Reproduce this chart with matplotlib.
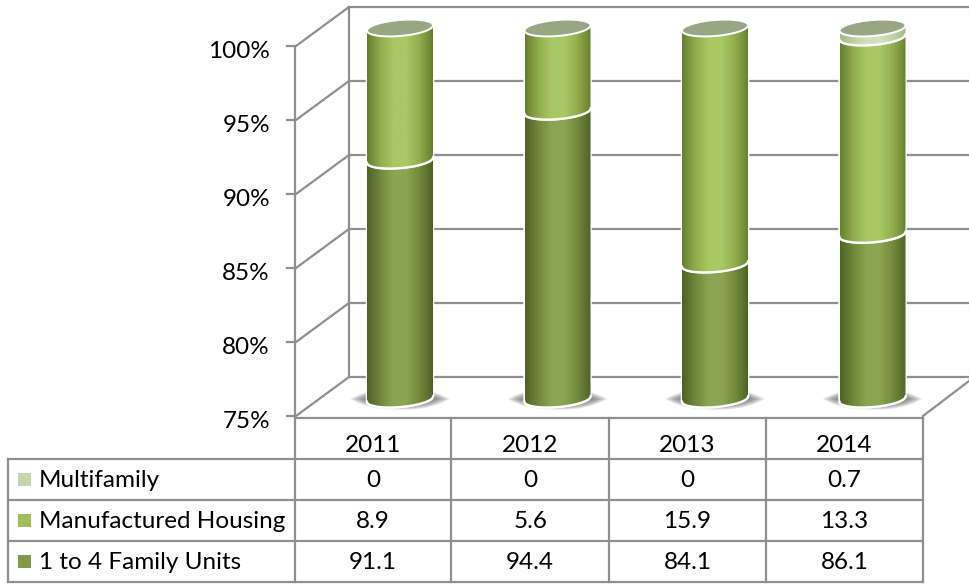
import matplotlib
matplotlib.use('Agg')
import matplotlib.pyplot as plt
import numpy as np
from matplotlib.colors import LinearSegmentedColormap
from matplotlib.patches import PathPatch, Polygon, Rectangle
from matplotlib.path import Path

years = ['2011', '2012', '2013', '2014']
series_names = ['Multifamily', 'Manufactured Housing', '1 to 4 Family Units']
family = [91.1, 94.4, 84.1, 86.1]
manufactured = [8.9, 5.6, 15.9, 13.3]
multifamily = [0, 0, 0, 0.7]
ticks = [75, 80, 85, 90, 95, 100]

plt.rcParams['font.family'] = ['Lato', 'DejaVu Sans']
GRID = '#8f8f8f'
W, H = 969, 584
FS = 17.5

fig = plt.figure(figsize=(W / 100, H / 100), dpi=100)


def overlay():
    a = fig.add_axes([0, 0, 1, 1], facecolor='none')
    a.axis('off')
    return a


# plain pixel axes for the walls and the table
ax_px = overlay()
ax_px.set_xlim(0, W)
ax_px.set_ylim(H, 0)

# front of the wall: x in pixels, y in percent
ax_wall = overlay()
ax_wall.set_xlim(0, W)
ax_wall.set_ylim(75 - (H - 416) / 14.8, 100 + 46 / 14.8)

# cylinders: x in categories, y in percent
ax_cyl = overlay()
step = 157.5
VS = 14.84
ax_cyl.set_xlim(-400 / step, (W - 400) / step)
ax_cyl.set_ylim(75 - (H - 399) / VS, 75 + 399 / VS)
cyl_xlim, cyl_ylim = ax_cyl.get_xlim(), ax_cyl.get_ylim()

# walls
dx, dy = 53, 39
fy = lambda v: 416 - (v - 75) * 14.8
for v in ticks:
    y = fy(v)
    ax_px.plot([287, 296, 296 + dx, W], [y, y, y - dy, y - dy], color=GRID, lw=1.6, solid_joinstyle='miter')
ax_px.plot([296 + dx, 296 + dx], [fy(100) - dy, fy(75) - dy], color=GRID, lw=1.6)
ax_px.plot([923, W], [416, 416 - 35], color=GRID, lw=1.6)
for v in ticks:
    ax_wall.text(270, v - 0.36, f'{v}%', ha='right', va='center', fontsize=FS, color='black')

# table
rows = [418, 459, 500, 541, 582]
cols = [295, 451.5, 609, 766, 923]
ax_px.plot([295, 923], [rows[0], rows[0]], color=GRID, lw=1.6)
ax_px.plot([8, 923], [rows[1], rows[1]], color=GRID, lw=1.6)
for y in rows[2:]:
    ax_px.plot([8, 923], [y, y], color=GRID, lw=1.6)
ax_px.plot([8, 8], [rows[1], rows[4]], color=GRID, lw=1.6)
ax_px.plot([295, 295], [46, rows[4]], color=GRID, lw=1.6)
for x in cols[1:]:
    ax_px.plot([x, x], [rows[0], rows[4]], color=GRID, lw=1.6)

table_rows = [multifamily, manufactured, family]
key_colors = ['#c6d6ac', '#9fbf5a', '#7f9a48']
centers = [(cols[i] + cols[i + 1]) / 2 for i in range(4)]
for i, year in enumerate(years):
    ax_px.text(centers[i], 445, year, ha='center', va='center', fontsize=FS)
for r, name in enumerate(series_names):
    yc = (rows[r + 1] + rows[r + 2]) / 2
    ax_px.add_patch(Rectangle((18, yc - 6.5), 13, 13, color=key_colors[r], lw=0))
    ax_px.text(39, yc + 1, name, ha='left', va='center', fontsize=FS)
    for i, val in enumerate(table_rows[r]):
        ax_px.text(centers[i], yc + 1, f'{val:g}', ha='center', va='center', fontsize=FS)

# cylinders
RX = 33 / step
RY = 8 / VS
SLOPE = 0.08 * step / VS  # value units per category
shade_family = LinearSegmentedColormap.from_list('f', ['#4f6226', '#6f883a', '#8aa552', '#8aa552', '#72893c', '#4f6226'])
shade_manuf = LinearSegmentedColormap.from_list('m', ['#66802f', '#8fad4c', '#a8c864', '#a8c864', '#8fad4c', '#66802f'])
shade_multi = LinearSegmentedColormap.from_list('t', ['#a3b488', '#c2d1a4', '#d2dfbb', '#d2dfbb', '#c2d1a4', '#a3b488'])
shades = [shade_family, shade_manuf, shade_multi]
grad = np.linspace(0, 1, 128).reshape(1, -1)


def arc(cx, v, t0, t1):
    t = np.linspace(t0, t1, 60)
    x = RX * np.cos(t)
    return np.column_stack([cx + x, v + SLOPE * x + RY * np.sin(t)])


for i in range(len(years)):
    # soft shadow on the floor
    for k in range(14):
        f = 1 - k / 14
        sx = np.linspace(-1, 1, 60)
        half = (1 - np.abs(sx) ** 2.6) * 0.72 * (0.3 + 0.7 * f)
        top = np.column_stack([i + sx * (50 / step) * (0.55 + 0.45 * f), 75.0 + half])
        bot = np.column_stack([i + sx[::-1] * (50 / step) * (0.55 + 0.45 * f), 75.0 - half[::-1]])
        ax_cyl.add_patch(Polygon(np.vstack([top, bot]), closed=True, color='#555555', alpha=0.1, lw=0))

    bottom = 75
    values = [family[i], manufactured[i], multifamily[i]]
    level = 0
    for s, val in enumerate(values):
        if val <= 0:
            continue
        level += val
        upper = min(level, 100)
        pts = np.vstack([arc(i, bottom, np.pi, 2 * np.pi), arc(i, upper, 0, np.pi)])
        path = Path(np.vstack([pts, pts[0]]), closed=True)
        edge = PathPatch(path, facecolor='none', edgecolor='white', lw=1.8, zorder=3 + s)
        ax_cyl.add_patch(edge)
        im = ax_cyl.imshow(grad, cmap=shades[s], aspect='auto', zorder=3 + s,
                           extent=[i - RX, i + RX, bottom - 2, upper + 2], vmin=0, vmax=1)
        clip = PathPatch(path, transform=ax_cyl.transData)
        im.set_clip_path(clip)
        front = arc(i, bottom, np.pi, 2 * np.pi)
        ax_cyl.plot(front[:, 0], front[:, 1], color='white', lw=1.6, zorder=3.5 + s)
        bottom = upper
    # top cap
    cap = arc(i, 100, 0, 2 * np.pi)
    ax_cyl.add_patch(Polygon(cap, closed=True, facecolor='#98a684', edgecolor='white', lw=1.4, zorder=10))

ax_cyl.set_xlim(cyl_xlim)
ax_cyl.set_ylim(cyl_ylim)

fig.savefig('out.png', dpi=100)
